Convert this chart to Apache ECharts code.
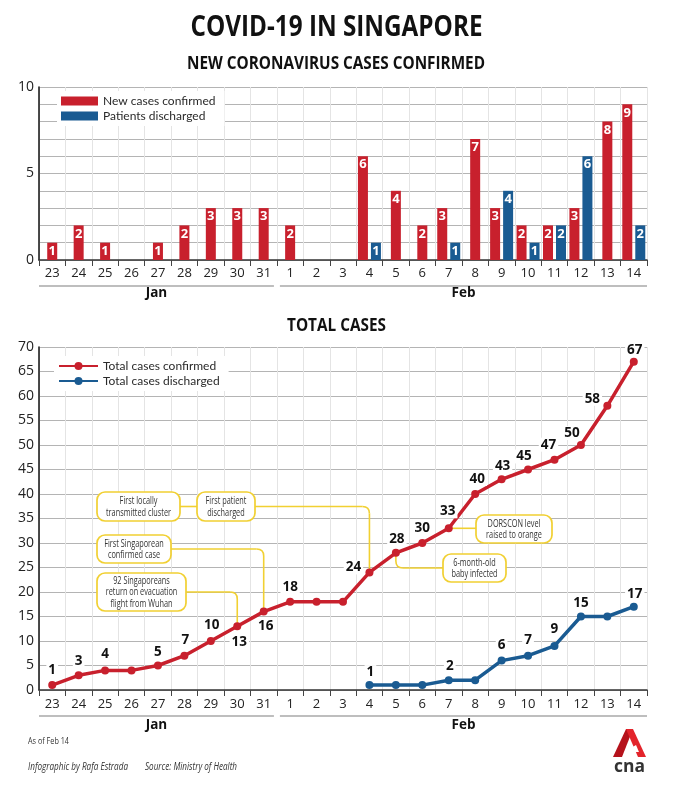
<!DOCTYPE html>
<html>
<head>
<meta charset="utf-8">
<script src="https://cdn.jsdelivr.net/npm/echarts/dist/echarts.min.js"></script>
<style>
html,body{margin:0;padding:0;background:#fff;}
#main{width:673px;height:800px;}
</style>
</head>
<body>
<div id="main"></div>
<script>
// ---------------- DATA ----------------
const days = ['23','24','25','26','27','28','29','30','31','1','2','3','4','5','6','7','8','9','10','11','12','13','14'];
const monthNames = ['Jan', 'Feb'];
const monthLengths = [9, 14];
const newConfirmed  = [1,2,1,0,1,2,3,3,3,2,0,0,6,4,2,3,7,3,2,2,3,8,9];
const newDischarged = [0,0,0,0,0,0,0,0,0,0,0,0,1,0,0,1,0,4,1,2,6,0,2];
const totalConfirmed  = [1,3,4,4,5,7,10,13,16,18,18,18,24,28,30,33,40,43,45,47,50,58,67];
const totalDischarged = [null,null,null,null,null,null,null,null,null,null,null,null,1,1,1,2,2,6,7,9,15,15,17];
const topYTicks = [0, 5, 10];
const bottomYTicks = [0,5,10,15,20,25,30,35,40,45,50,55,60,65,70];
const annotations = [
  { text: 'First locally\ntransmitted cluster', route: 'link', next: 1 },
  { text: 'First patient\ndischarged', route: 'hv', target: 12 },
  { text: 'First Singaporean\nconfirmed case', route: 'hv', target: 8 },
  { text: '92 Singaporeans\nreturn on evacuation\nflight from Wuhan', route: 'hv', target: 7 },
  { text: 'DORSCON level\nraised to orange', route: 'h', target: 15 },
  { text: '6-month-old\nbaby infected', route: 'vh', target: 13 }
];

// ---------------- LAYOUT / STYLE ----------------
const RED = '#c8202d', BLUE = '#1a5b92', YEL = '#f1d032';
const FONT = '"Open Sans", "Noto Sans", sans-serif';
const LEGFONT = 'Lato, "Open Sans", sans-serif';
// annotation boxes [x, y, w, h] in pixels
const annBoxes = [[97,492,83,29],[197,492,58,29],[97,535,74,28],[97,573,89,38],[476,515,76,28],[443,554,63,28]];
// label offsets [dx, dy] for shown point labels
const confLabelOffsets = {0:[0,-15],1:[0,-14],2:[0,-16],4:[0,-13],5:[1,-16],6:[1,-16],7:[2,16],8:[2,15],9:[0,-15],
  12:[-16,-5],13:[1,-14],14:[0,-15],15:[-1,-17],16:[2,-15],17:[1,-13],18:[-4,-13],19:[-6,-15],20:[-9,-12],21:[-15,-7],22:[1,-12]};
const dischLabelOffsets = {12:[1,-13],15:[1,-14],17:[0,-15],18:[0,-16],19:[0,-17],20:[0,-13],22:[1,-13]};

const redSolo = newConfirmed.map((v,i) => (newDischarged[i] > 0 || v === 0) ? null : v);
const redPair = newConfirmed.map((v,i) => newDischarged[i] > 0 ? v : null);
const bluePair = newDischarged.map(v => v > 0 ? v : null);

const barLabel = { show: true, position: 'insideTop', distance: 2, color: '#fff', fontWeight: 'bold', fontSize: 13, fontFamily: FONT };

function pointLabels(values, offsets) {
  return values.map((v, i) => {
    const o = offsets[i];
    return { value: v, label: o ? { show: true, offset: o } : { show: false } };
  });
}

const chart = echarts.init(document.getElementById('main'), null, { renderer: 'canvas' });

const catAxisBase = {
  type: 'category', data: days, boundaryGap: true,
  axisLine: { show: true, lineStyle: { color: '#333', width: 1.5 } },
  axisTick: { show: true, length: 6, lineStyle: { color: '#444', width: 1 } },
  axisLabel: { color: '#222', fontSize: 13, fontFamily: FONT, margin: 7, interval: 0 },
  splitLine: { show: true, interval: 0, lineStyle: { color: '#e4e4e4', width: 1 } }
};

const option = {
  backgroundColor: '#fff',
  animation: false,
  grid: [
    { left: 39, right: 26, top: 87, bottom: 540 },
    { left: 39, right: 26, top: 347, bottom: 110 }
  ],
  xAxis: [
    Object.assign({}, catAxisBase, { gridIndex: 0 }),
    { type: 'category', data: days, gridIndex: 0, show: false, boundaryGap: true, splitLine: { show: false }, axisTick: { show: false } },
    Object.assign({}, catAxisBase, { gridIndex: 1, axisLabel: Object.assign({}, catAxisBase.axisLabel, { margin: 8 }) })
  ],
  yAxis: [
    { type: 'value', gridIndex: 0, min: 0, max: 10, interval: 1,
      axisLine: { show: true, lineStyle: { color: '#111', width: 1.5 } }, axisTick: { show: false },
      axisLabel: { color: '#222', fontSize: 14, fontFamily: FONT, margin: 5,
        formatter: v => topYTicks.indexOf(v) >= 0 ? String(v) : '' },
      splitLine: { lineStyle: { color: '#b4b4b4', width: 1 } } },
    { type: 'value', gridIndex: 1, min: 0, max: 70, interval: 5,
      axisLine: { show: true, lineStyle: { color: '#111', width: 1.5 } }, axisTick: { show: false },
      axisLabel: { color: '#222', fontSize: 14, fontFamily: FONT, margin: 5,
        formatter: v => bottomYTicks.indexOf(v) >= 0 ? String(v) : '' },
      splitLine: { lineStyle: { color: '#b4b4b4', width: 1 } } }
  ],
  legend: [
    { data: ['New cases confirmed', 'Patients discharged'], orient: 'vertical', left: 57, top: 91,
      padding: [4, 9, 4, 4], backgroundColor: '#fff', itemWidth: 37, itemHeight: 9, itemGap: 3,
      icon: 'rect', selectedMode: false,
      textStyle: { color: '#2a2a2a', fontSize: 12, fontFamily: LEGFONT, lineHeight: 12 } },
    { data: ['Total cases confirmed', 'Total cases discharged'], orient: 'vertical', left: 54, top: 356,
      padding: [4, 9, 4, 4], backgroundColor: '#fff', itemWidth: 39, itemHeight: 10, itemGap: 3,
      selectedMode: false,
      textStyle: { color: '#2a2a2a', fontSize: 12, fontFamily: LEGFONT, lineHeight: 12 } }
  ],
  series: [
    { name: 'New cases confirmed', type: 'bar', xAxisIndex: 0, yAxisIndex: 0, data: redSolo,
      barWidth: 10, itemStyle: { color: RED }, label: barLabel },
    { name: 'New cases confirmed', type: 'bar', xAxisIndex: 1, yAxisIndex: 0, data: redPair,
      barWidth: 10, barGap: '30%', itemStyle: { color: RED }, label: barLabel },
    { name: 'Patients discharged', type: 'bar', xAxisIndex: 1, yAxisIndex: 0, data: bluePair,
      barWidth: 10, barGap: '30%', itemStyle: { color: BLUE }, label: barLabel },
    { name: 'Total cases confirmed', type: 'line', xAxisIndex: 2, yAxisIndex: 1,
      data: pointLabels(totalConfirmed, confLabelOffsets), z: 4,
      symbol: 'circle', symbolSize: 8, lineStyle: { color: RED, width: 3.5 }, itemStyle: { color: RED },
      label: { position: 'inside', color: '#111', fontWeight: 'bold', fontSize: 13.5, fontFamily: FONT,
        backgroundColor: '#fff', padding: [0, 2, 0, 2] } },
    { name: 'Total cases discharged', type: 'line', xAxisIndex: 2, yAxisIndex: 1,
      data: pointLabels(totalDischarged, dischLabelOffsets), z: 4,
      symbol: 'circle', symbolSize: 8, lineStyle: { color: BLUE, width: 3.5 }, itemStyle: { color: BLUE },
      label: { position: 'inside', color: '#111', fontWeight: 'bold', fontSize: 13.5, fontFamily: FONT,
        backgroundColor: '#fff', padding: [0, 2, 0, 2] } }
  ]
};
chart.setOption(option);

// ---------------- DECORATIONS ----------------
const mctx = document.createElement('canvas').getContext('2d');
function fit(text, font, w) {
  mctx.font = font;
  let m = 0;
  text.split('\n').forEach(t => { m = Math.max(m, mctx.measureText(t).width); });
  return m > 0 ? w / m : 1;
}
function txt(text, x, y, font, fill, w, extra) {
  const s = w ? fit(text, font, w) : 1;
  return { type: 'text', x: x, y: y, scaleX: s, z: 5,
    style: Object.assign({ text: text, font: font, fill: fill, align: 'center', verticalAlign: 'middle' }, extra || {}) };
}
// rounded connector built from line + quadratic bezier segments
function connector(pts, r, stroke, lw, z) {
  const out = [];
  const seg = (x1, y1, x2, y2) => out.push({ type: 'line', z: z, shape: { x1: x1, y1: y1, x2: x2, y2: y2 },
    style: { stroke: stroke, lineWidth: lw } });
  let cur = pts[0];
  for (let i = 1; i < pts.length - 1; i++) {
    const p = pts[i], a = pts[i-1], b = pts[i+1];
    const l1 = Math.hypot(p[0]-a[0], p[1]-a[1]) || 1, l2 = Math.hypot(b[0]-p[0], b[1]-p[1]) || 1;
    const rr = Math.min(r, l1/2, l2/2);
    const s = [p[0] - (p[0]-a[0])/l1*rr, p[1] - (p[1]-a[1])/l1*rr];
    const e = [p[0] + (b[0]-p[0])/l2*rr, p[1] + (b[1]-p[1])/l2*rr];
    seg(cur[0], cur[1], s[0], s[1]);
    out.push({ type: 'bezierCurve', z: z, shape: { x1: s[0], y1: s[1], x2: e[0], y2: e[1], cpx1: p[0], cpy1: p[1] },
      style: { stroke: stroke, lineWidth: lw, fill: null } });
    cur = e;
  }
  const last = pts[pts.length-1];
  seg(cur[0], cur[1], last[0], last[1]);
  return out;
}

function buildGraphics() {
  const els = [];
  // titles
  els.push(txt('COVID-19 IN SINGAPORE', 336.5, 28, 'bold 28px ' + FONT, '#111', 292));
  els.push(txt('NEW CORONAVIRUS CASES CONFIRMED', 336, 64, 'bold 17px ' + FONT, '#111', 298));
  els.push(txt('TOTAL CASES', 336.5, 326.5, 'bold 17px ' + FONT, '#111', 99));

  // month separators and labels
  [[0, 286, 293], [2, 716, 725]].forEach(([axisIdx, lineY, textY]) => {
    const px = i => chart.convertToPixel({ xAxisIndex: axisIdx }, i);
    const band = px(1) - px(0);
    let start = 0;
    monthNames.forEach((mn, k) => {
      const end = start + monthLengths[k] - 1;
      const x1 = px(start) - band / 2 + (k > 0 ? 3 : 0);
      const x2 = px(end) + band / 2 - (k < monthNames.length - 1 ? 3 : 0);
      els.push({ type: 'line', z: 5, shape: { x1: x1, y1: lineY, x2: x2, y2: lineY },
        style: { stroke: '#a8a8a8', lineWidth: 1.5 } });
      els.push(txt(mn, (x1 + x2) / 2, textY, 'bold 13.5px ' + FONT, '#111'));
      start = end + 1;
    });
  });

  // annotations
  const boxes = annBoxes.map(b => ({ x: b[0], y: b[1], w: b[2], h: b[3], cx: b[0] + b[2]/2, cy: b[1] + b[3]/2 }));
  const annFont = '10.5px ' + FONT;
  const annScale = fit('transmitted cluster', annFont, 65);
  annotations.forEach((a, i) => {
    const b = boxes[i];
    let pts = null;
    if (a.route === 'link') {
      const nb = boxes[a.next];
      pts = [[b.x + b.w, b.cy], [nb.x, b.cy]];
    } else {
      const p = chart.convertToPixel({ gridIndex: 1 }, [a.target, totalConfirmed[a.target]]);
      if (a.route === 'hv') pts = [[b.x + b.w, b.cy], [p[0], b.cy], [p[0], p[1]]];
      else if (a.route === 'h') pts = [[p[0], p[1]], [b.x, p[1]]];
      else if (a.route === 'vh') pts = [[p[0], p[1]], [p[0], b.cy], [b.x, b.cy]];
    }
    connector(pts, 7, YEL, 1.6, 1).forEach(e => els.push(e));
    els.push({ type: 'rect', z: 3, shape: { x: b.x, y: b.y, width: b.w, height: b.h, r: 8 },
      style: { fill: '#fff', stroke: YEL, lineWidth: 1.7 } });
    els.push({ type: 'text', z: 5, x: b.cx, y: b.cy + 0.5, scaleX: annScale,
      style: { text: a.text, font: annFont, fill: '#333', align: 'center', verticalAlign: 'middle', lineHeight: 11.5 } });
  });

  // footer
  els.push(txt('As of Feb 14', 28, 741.5, '9px ' + FONT, '#333', 41, { align: 'left' }));
  els.push(txt('Infographic by Rafa Estrada', 28, 767, 'italic 10px ' + FONT, '#333', 100, { align: 'left' }));
  els.push(txt('Source: Ministry of Health', 145, 767, 'italic 10px ' + FONT, '#333', 92, { align: 'left' }));

  // CNA logo
  els.push({ type: 'polygon', z: 5, shape: { points: [[613,757],[626,729],[633,729],[622,757]] }, style: { fill: '#b5121b' } });
  els.push({ type: 'polygon', z: 5, shape: { points: [[626,729],[633,729],[646,757],[638,757]] }, style: { fill: '#e3242b' } });
  els.push({ type: 'polygon', z: 6, shape: { points: [[624,752],[636,745],[639,752]] }, style: { fill: '#fff' } });
  els.push(txt('cna', 629.5, 767, 'bold 17px ' + FONT, '#333', 31));
  return els;
}
chart.setOption({ graphic: { elements: buildGraphics() } });
</script>
</body>
</html>
